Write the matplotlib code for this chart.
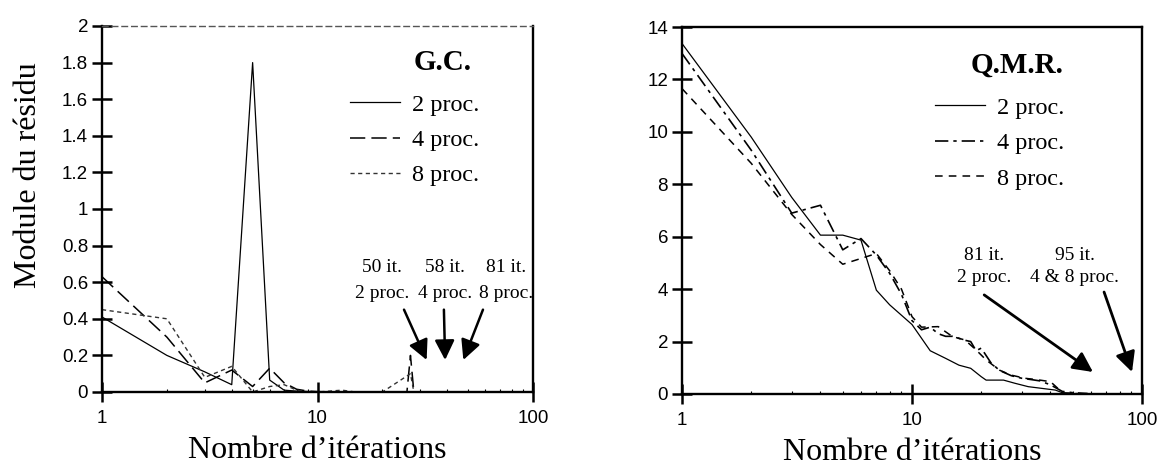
import matplotlib
matplotlib.use("Agg")
import matplotlib.pyplot as plt
from matplotlib.lines import Line2D
from matplotlib.ticker import LogLocator, NullFormatter

# ---------------- data ----------------
# G.C. panel
gc_x2 = [1, 2, 3, 4, 5, 6, 7, 8, 9, 10, 12, 15, 20, 30, 40, 50]
gc_y2 = [0.41, 0.20, 0.11, 0.04, 1.80, 0.065, 0.01, 0.005, 0.003, 0.002, 0.001, 0.001, 0.0, 0.0, 0.0, 0.0]

gc_x4 = [1, 2, 3, 4, 5, 6, 7, 8, 9, 10, 12, 15, 20, 26, 27, 28, 30, 40, 58]
gc_y4 = [0.63, 0.30, 0.05, 0.12, 0.03, 0.13, 0.05, 0.015, 0.005, 0.002, 0.0, 0.0, 0.0, 0.0, 0.2, 0.0, 0.0, 0.0, 0.0]

gc_x8 = [1, 2, 3, 4, 5, 6, 7, 8, 9, 10, 13, 15, 20, 27, 28, 40, 60, 81]
gc_y8 = [0.45, 0.40, 0.08, 0.14, 0.0, 0.03, 0.04, 0.01, 0.0, 0.0, 0.01, 0.0, 0.0, 0.1, 0.0, 0.0, 0.0, 0.0]

# Q.M.R. panel
qmr_x2 = [1, 2, 3, 4, 5, 6, 7, 8, 10, 12, 14, 16, 18, 20, 21, 25, 28, 32, 42, 45, 50]
qmr_y2 = [13.37, 9.8, 7.5, 6.06, 6.06, 5.87, 3.96, 3.4, 2.65, 1.65, 1.36, 1.1, 0.98, 0.66, 0.53, 0.53, 0.41, 0.28, 0.15, 0.05, 0.03]

qmr_x4 = [1, 2, 3, 4, 5, 6, 7, 8, 9, 10, 11, 12, 13, 14, 15, 17, 18, 19, 20, 22, 24, 27, 30, 33, 36, 40, 45, 50, 58]
qmr_y4 = [12.99, 9.3, 6.9, 7.2, 5.5, 5.93, 5.3, 4.6, 3.8, 2.8, 2.45, 2.55, 2.3, 2.2, 2.2, 2.05, 2.0, 1.65, 1.75, 1.2, 0.9, 0.7, 0.6, 0.55, 0.5, 0.35, 0.1, 0.05, 0.02]

qmr_x8 = [1, 2, 3, 4, 5, 6, 7, 8, 9, 10, 11, 13, 15, 17, 19, 21, 24, 27, 31, 36, 40, 43, 45, 60, 95]
qmr_y8 = [11.65, 8.8, 6.85, 5.7, 4.95, 5.17, 5.36, 4.7, 4.0, 2.95, 2.55, 2.57, 2.19, 2.06, 1.68, 1.3, 0.91, 0.72, 0.6, 0.53, 0.47, 0.22, 0.03, 0.0, 0.0]

series_labels = ["2 proc.", "4 proc.", "8 proc."]

gc_yticks = [0, 0.2, 0.4, 0.6, 0.8, 1, 1.2, 1.4, 1.6, 1.8, 2]
gc_yticklabels = ["0", "0.2", "0.4", "0.6", "0.8", "1", "1.2", "1.4", "1.6", "1.8", "2"]
qmr_yticks = [0, 2, 4, 6, 8, 10, 12, 14]
xticks = [1, 10, 100]
xticklabels = ["1", "10", "100"]

# annotations: (text line 1, text line 2, text x, tail(x,y), tip(x,y))
gc_notes = [("50 it.", "2 proc.", 20.0, (25.2, 0.45), (32.1, 0.175)),
            ("58 it.", "4 proc.", 39.0, (38.6, 0.45), (39.1, 0.175)),
            ("81 it.", "8 proc.", 75.0, (58.6, 0.45), (47.5, 0.175))]
qmr_notes = [("81 it.", "2 proc.", 20.5, (20.6, 3.78), (61.2, 0.84)),
             ("95 it.", "4 & 8 proc.", 51.0, (68.4, 3.89), (90.5, 0.84))]

# ---------------- style ----------------
SERIF = ["Liberation Serif", "DejaVu Serif"]
SANS = ["Liberation Sans", "DejaVu Sans"]
plt.rcParams["font.family"] = SANS

fig = plt.figure(figsize=(11.59, 4.76), dpi=100)
axL = fig.add_axes([102 / 1159, 1 - 392 / 476, (533 - 102) / 1159, (392 - 26) / 476])
axR = fig.add_axes([682 / 1159, 1 - 394 / 476, (1142 - 682) / 1159, (394 - 27) / 476])


def style_axis(ax, yticks, ylabels, ymax):
    ax.set_xscale("log")
    ax.set_xlim(1, 100)
    ax.set_ylim(0, ymax)
    ax.set_yticks(yticks)
    ax.set_yticklabels(ylabels)
    ax.set_xticks(xticks)
    ax.set_xticklabels(xticklabels)
    ax.xaxis.set_minor_locator(LogLocator(base=10, subs=range(2, 10)))
    ax.xaxis.set_minor_formatter(NullFormatter())
    ax.tick_params(axis="y", which="major", direction="inout", length=15, width=1.8,
                   labelsize=13.5, pad=2.5, right=False)
    ax.tick_params(axis="x", which="major", direction="inout", length=14, width=1.8,
                   labelsize=13.5, pad=6, top=False)
    ax.tick_params(axis="x", which="minor", direction="in", length=2.5, width=0.8, top=False)
    for s in ax.spines.values():
        s.set_linewidth(1.7)
        s.set_color("black")
    for lab in ax.get_xticklabels() + ax.get_yticklabels():
        lab.set_family(SANS)
    ax.set_xlabel("Nombre d’itérations", family=SERIF, fontsize=23)
    ax.xaxis.set_label_coords(0.5, -0.16)
    ax.xaxis.label.set_va("center")


style_axis(axL, gc_yticks, gc_yticklabels, 2)
style_axis(axR, qmr_yticks, [str(v) for v in qmr_yticks], 14)
axL.spines["top"].set_linestyle((0, (4, 3)))
axL.spines["top"].set_linewidth(1.0)
axL.spines["top"].set_color("#555555")

axL.set_ylabel("Module du résidu", family=SERIF, fontsize=23)
axL.yaxis.set_label_coords(-0.17, 0.593)
axL.yaxis.label.set_va("center")

# ---------------- lines ----------------
gc_styles = [dict(ls="-", lw=0.9, color="black"),
             dict(ls=(0, (10, 4)), lw=1.1, color="black"),
             dict(ls=(0, (3, 2.5)), lw=1.0, color="#333333")]
qmr_styles = [dict(ls="-", lw=0.9, color="black"),
              dict(ls=(0, (8, 3, 2, 3)), lw=1.2, color="black"),
              dict(ls=(0, (5, 4)), lw=1.1, color="black")]

for (x, y), st in zip([(gc_x2, gc_y2), (gc_x4, gc_y4), (gc_x8, gc_y8)], gc_styles):
    axL.plot(x, y, clip_on=False, **st)
for (x, y), st in zip([(qmr_x2, qmr_y2), (qmr_x4, qmr_y4), (qmr_x8, qmr_y8)], qmr_styles):
    axR.plot(x, y, clip_on=False, **st)


def add_legend(ax, styles, title, anchor, title_pos):
    handles = [Line2D([], [], **st) for st in styles]
    ax.legend(handles, series_labels, loc="upper left", bbox_to_anchor=anchor,
              frameon=False, borderpad=0, borderaxespad=0, handlelength=2.05,
              handletextpad=0.5, labelspacing=0.55,
              prop={"family": SERIF, "size": 17.5})
    ax.text(title_pos[0], title_pos[1], title, transform=ax.transAxes, family=SERIF,
            fontsize=21, fontweight="bold", ha="center", va="center")


add_legend(axL, gc_styles, "G.C.", (0.575, 0.815), (0.791, 0.899))
add_legend(axR, qmr_styles, "Q.M.R.", (0.55, 0.81), (0.728, 0.896))


def add_notes(ax, notes, y1, y2, lw):
    for t1, t2, tx, tail, tip in notes:
        ax.text(tx, y1, t1, family=SERIF, fontsize=14, ha="center", va="center")
        ax.text(tx, y2, t2, family=SERIF, fontsize=14, ha="center", va="center")
        ax.annotate("", xy=tip, xytext=tail,
                    arrowprops=dict(arrowstyle="-|>,head_length=1.2,head_width=0.6",
                                    mutation_scale=10, lw=lw, color="black",
                                    shrinkA=0, shrinkB=0))


add_notes(axL, gc_notes, 0.68, 0.54, 1.8)
add_notes(axR, qmr_notes, 5.3, 4.43, 2.0)

fig.savefig("out.png", dpi=100)
